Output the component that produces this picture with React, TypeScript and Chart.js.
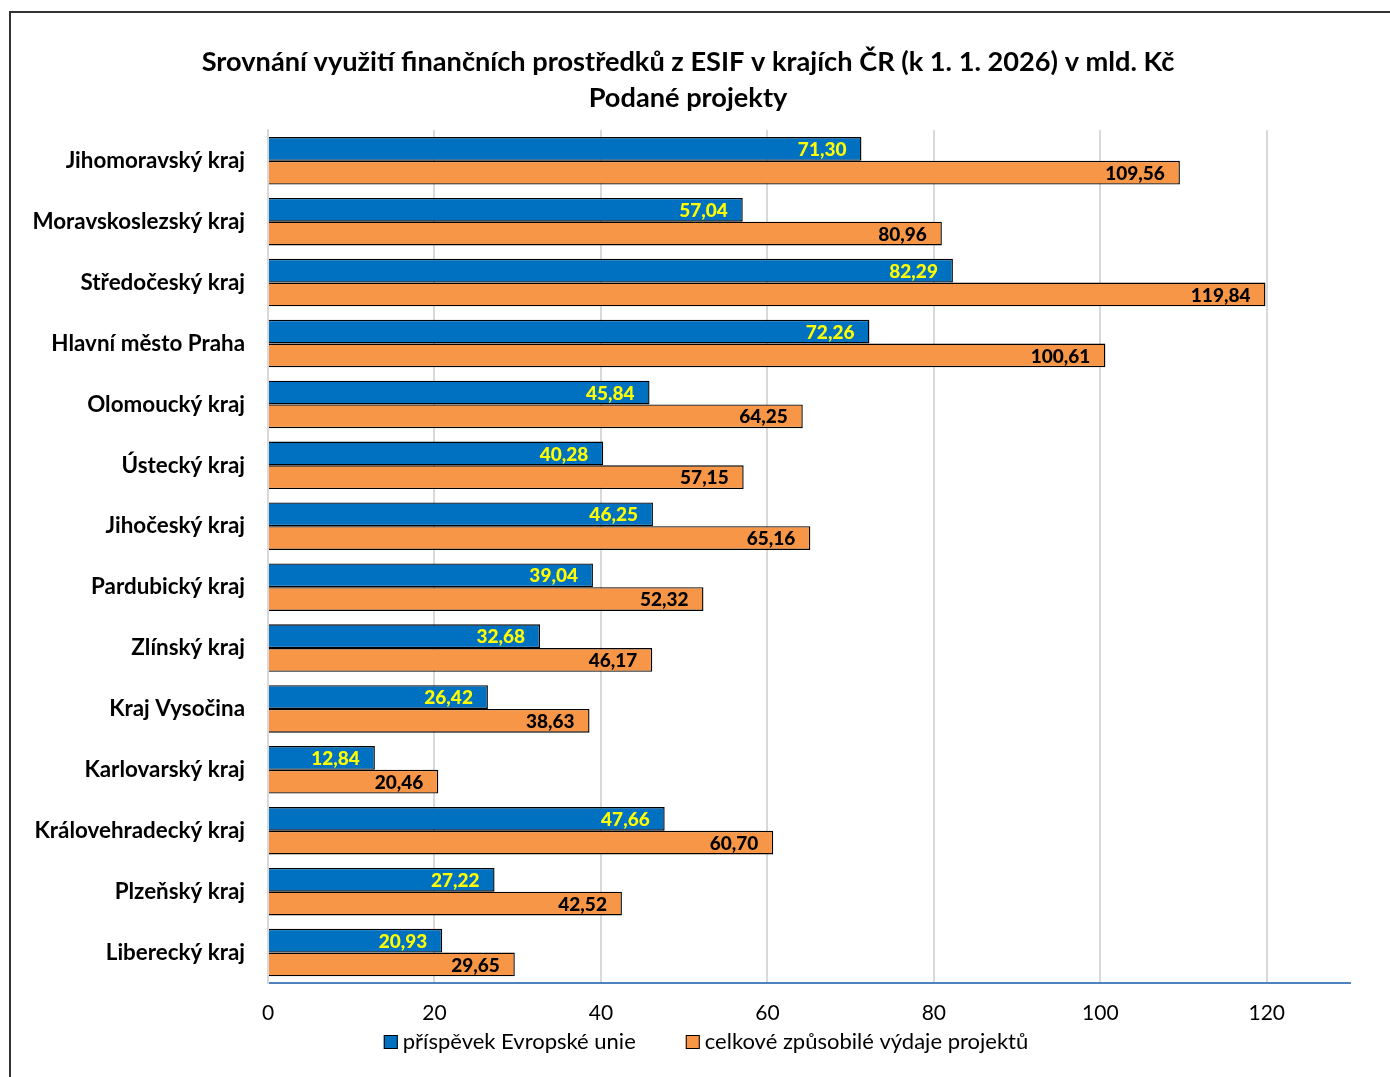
import React, { useEffect, useRef } from 'react';
import { Chart, registerables } from 'chart.js';

Chart.register(...registerables);

const titleLines = [
  'Srovnání využití finančních prostředků z ESIF v krajích ČR (k 1. 1. 2026) v mld. Kč',
  'Podané projekty',
];

const categories = [
  'Jihomoravský kraj',
  'Moravskoslezský kraj',
  'Středočeský kraj',
  'Hlavní město Praha',
  'Olomoucký kraj',
  'Ústecký kraj',
  'Jihočeský kraj',
  'Pardubický kraj',
  'Zlínský kraj',
  'Kraj Vysočina',
  'Karlovarský kraj',
  'Královehradecký kraj',
  'Plzeňský kraj',
  'Liberecký kraj',
];

const seriesNames = ['příspěvek Evropské unie', 'celkové způsobilé výdaje projektů'];

const euContribution = [71.3, 57.04, 82.29, 72.26, 45.84, 40.28, 46.25, 39.04, 32.68, 26.42, 12.84, 47.66, 27.22, 20.93];
const totalEligible = [109.56, 80.96, 119.84, 100.61, 64.25, 57.15, 65.16, 52.32, 46.17, 38.63, 20.46, 60.7, 42.52, 29.65];

const xTicks = [0, 20, 40, 60, 80, 100, 120];
const xMax = 130;

const FONT = 'Lato, "Open Sans", sans-serif';
const BLUE = '#0070C0';
const ORANGE = '#F79646';
const labelColors = ['#FFFF00', '#000000'];

const fmt = (v: number) => v.toFixed(2).replace('.', ',');

const dataLabelPlugin = {
  id: 'dataLabels',
  afterDatasetsDraw(chart: any) {
    const ctx = chart.ctx;
    ctx.save();
    ctx.font = `900 19px ${FONT}`;
    ctx.textAlign = 'right';
    ctx.textBaseline = 'middle';
    chart.data.datasets.forEach((ds: any, di: number) => {
      const meta = chart.getDatasetMeta(di);
      ctx.fillStyle = labelColors[di];
      meta.data.forEach((el: any, i: number) => {
        ctx.fillText(fmt(ds.data[i]), el.x - 15, el.y + 1);
      });
    });
    ctx.restore();
  },
};

const legendPlugin = {
  id: 'customLegend',
  afterDraw(chart: any) {
    const ctx = chart.ctx;
    ctx.save();
    ctx.font = `22px ${FONT}`;
    ctx.textBaseline = 'middle';
    ctx.textAlign = 'left';
    const box = 14;
    const gapBox = 5;
    const gapItem = 50;
    const items = chart.data.datasets.map((ds: any) => ({
      label: ds.label,
      color: ds.backgroundColor,
      w: box + gapBox + ctx.measureText(ds.label).width,
    }));
    const total = items.reduce((s: number, it: any) => s + it.w, 0) + gapItem * (items.length - 1);
    let x = chart.width / 2 + 11 - total / 2;
    const y = 1042;
    items.forEach((it: any) => {
      ctx.fillStyle = it.color;
      ctx.fillRect(x, y - box / 2, box, box);
      ctx.strokeStyle = '#000';
      ctx.lineWidth = 1;
      ctx.strokeRect(x + 0.5, y - box / 2 + 0.5, box - 1, box - 1);
      ctx.fillStyle = '#000';
      ctx.fillText(it.label, x + box + gapBox, y);
      x += it.w + gapItem;
    });
    ctx.restore();
  },
};

export default function App() {
  const ref = useRef<HTMLCanvasElement | null>(null);

  useEffect(() => {
    if (!ref.current) return;
    const chart = new Chart(ref.current, {
      type: 'bar',
      data: {
        labels: categories,
        datasets: [
          {
            label: seriesNames[0],
            data: euContribution,
            backgroundColor: BLUE,
            borderColor: '#000',
            borderWidth: 1.4,
            barPercentage: 1,
            categoryPercentage: 0.78,
          },
          {
            label: seriesNames[1],
            data: totalEligible,
            backgroundColor: ORANGE,
            borderColor: '#000',
            borderWidth: 1.4,
            barPercentage: 1,
            categoryPercentage: 0.78,
          },
        ],
      },
      options: {
        indexAxis: 'y',
        animation: false,
        responsive: false,
        maintainAspectRatio: false,
        layout: { padding: { left: 26, right: 40, top: 44, bottom: 44 } },
        plugins: {
          legend: { display: false },
          tooltip: { enabled: false },
          title: {
            display: true,
            text: titleLines,
            color: '#000',
            font: { family: FONT, size: 27.2, weight: 'bold', lineHeight: 1.33 },
            padding: { top: 0, bottom: 14 },
          },
        },
        scales: {
          x: {
            type: 'linear',
            min: 0,
            max: xMax,
            afterBuildTicks: (scale: any) => {
              scale.ticks = xTicks.map((v) => ({ value: v }));
            },
            afterFit: (scale: any) => {
              scale.height = 50;
            },
            grid: { color: '#D9D9D9', lineWidth: 2, drawTicks: false },
            border: { display: true, color: '#4F81BD', width: 2 },
            ticks: {
              color: '#000',
              font: { family: FONT, size: 21 },
              padding: 18,
            },
          },
          y: {
            type: 'category',
            afterFit: (scale: any) => {
              scale.width = 242;
            },
            grid: { display: false, drawTicks: false },
            border: { display: true, color: '#D9D9D9', width: 2 },
            ticks: {
              color: '#000',
              font: { family: FONT, size: 22.4, weight: 'bold' },
              padding: 23,
            },
          },
        },
      },
      plugins: [dataLabelPlugin, legendPlugin],
    } as any);
    return () => chart.destroy();
  }, []);

  return (
    <div style={{ position: 'fixed', left: 0, top: 0, width: 1390, height: 1077, background: '#fff' }}>
      <canvas ref={ref} width={1390} height={1077} style={{ display: 'block', width: 1390, height: 1077 }} />
      <div
        style={{
          position: 'absolute',
          left: 9,
          top: 11,
          width: 1390,
          height: 1077,
          borderTop: '2px solid #333',
          borderLeft: '2px solid #333',
          boxSizing: 'border-box',
          pointerEvents: 'none',
        }}
      />
    </div>
  );
}
